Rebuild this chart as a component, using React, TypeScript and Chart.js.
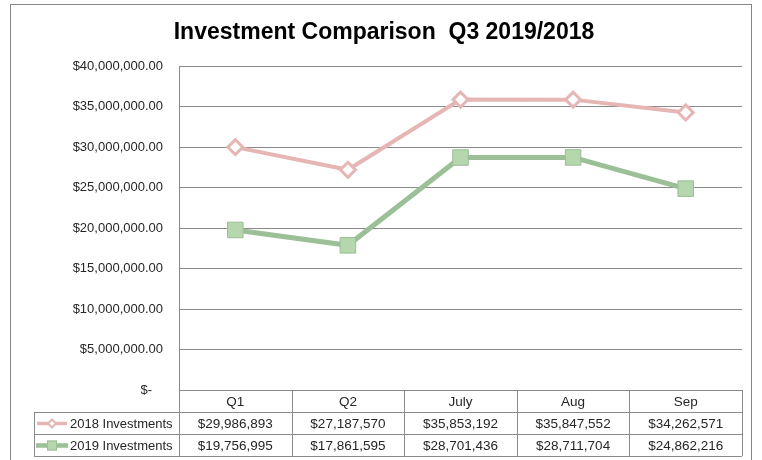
import React, { useEffect, useRef } from "react";
import { Chart, registerables } from "chart.js";

Chart.register(...registerables);

const chartTitle = "Investment Comparison  Q3 2019/2018";
const categories = ["Q1", "Q2", "July", "Aug", "Sep"];
const seriesNames = ["2018 Investments", "2019 Investments"];
const values2018 = [29986893, 27187570, 35853192, 35847552, 34262571];
const values2019 = [19756995, 17861595, 28701436, 28711704, 24862216];
const yMin = 0;
const yMax = 40000000;
const yStep = 5000000;

const PINK = "#E6B6B5";
const GREEN = "#9BBF96";
const GREEN_FILL = "#B6D6AE";
const GRID = "#8A8A8A";
const TEXT = "#262626";
const FONT = "'Liberation Sans', Arial, sans-serif";

const fmtMoney = (v: number) => "$" + v.toLocaleString("en-US");
const fmtTick = (v: number) =>
  v === 0
    ? "$-   "
    : "$" + v.toLocaleString("en-US", { minimumFractionDigits: 2, maximumFractionDigits: 2 });

const decorPlugin = {
  id: "decor",
  afterDraw(chart: any) {
    const ctx: CanvasRenderingContext2D = chart.ctx;
    const xs = chart.scales.x;
    const area = chart.chartArea;
    ctx.save();
    // outer border
    ctx.strokeStyle = "#868686";
    ctx.lineWidth = 1;
    ctx.strokeRect(10.5, 4.5, 741, 480);
    // title
    ctx.fillStyle = "#000";
    ctx.font = `bold 23px ${FONT}`;
    ctx.textAlign = "center";
    ctx.textBaseline = "middle";
    ctx.fillText(chartTitle, 384, 33);

    // data table
    const n = categories.length;
    const step = (area.right - area.left) / n;
    const rowH = 22;
    const top = area.bottom;
    const keyLeft = 34;
    ctx.strokeStyle = GRID;
    ctx.lineWidth = 1;
    ctx.beginPath();
    for (let r = 1; r <= 3; r++) {
      const y = Math.round(top + r * rowH) + 0.5;
      ctx.moveTo(keyLeft, y);
      ctx.lineTo(area.right, y);
    }
    for (let i = 0; i <= n; i++) {
      const x = Math.round(area.left + i * step) + 0.5;
      ctx.moveTo(x, top);
      ctx.lineTo(x, top + 3 * rowH);
    }
    ctx.moveTo(keyLeft + 0.5, top + rowH);
    ctx.lineTo(keyLeft + 0.5, top + 3 * rowH);
    ctx.stroke();

    ctx.fillStyle = TEXT;
    ctx.font = `13.5px ${FONT}`;
    ctx.textAlign = "center";
    ctx.textBaseline = "middle";
    const rows = [values2018, values2019];
    for (let i = 0; i < n; i++) {
      const cx = xs.getPixelForValue(i);
      ctx.fillText(categories[i], cx, top + rowH / 2 + 1);
      for (let r = 0; r < rows.length; r++) {
        ctx.fillText(fmtMoney(rows[r][i]), cx, top + rowH * (r + 1) + rowH / 2 + 1);
      }
    }
    // legend keys
    ctx.textAlign = "left";
    ctx.font = `13px ${FONT}`;
    for (let r = 0; r < 2; r++) {
      const cy = top + rowH * (r + 1) + rowH / 2 + 0.5;
      ctx.fillStyle = TEXT;
      ctx.fillText(seriesNames[r], 70, cy + 0.5);
      const kx = 52;
      if (r === 0) {
        ctx.strokeStyle = PINK;
        ctx.lineWidth = 3.5;
        ctx.beginPath();
        ctx.moveTo(37, cy);
        ctx.lineTo(67, cy);
        ctx.stroke();
        ctx.beginPath();
        ctx.moveTo(kx, cy - 4);
        ctx.lineTo(kx + 4, cy);
        ctx.lineTo(kx, cy + 4);
        ctx.lineTo(kx - 4, cy);
        ctx.closePath();
        ctx.fillStyle = "#fff";
        ctx.fill();
        ctx.lineWidth = 2;
        ctx.stroke();
      } else {
        ctx.strokeStyle = GREEN;
        ctx.lineWidth = 4.5;
        ctx.beginPath();
        ctx.moveTo(36, cy);
        ctx.lineTo(68, cy);
        ctx.stroke();
        ctx.fillStyle = GREEN_FILL;
        ctx.fillRect(kx - 5, cy - 5, 10, 10);
        ctx.strokeStyle = GREEN;
        ctx.lineWidth = 1;
        ctx.strokeRect(kx - 4.5, cy - 4.5, 9, 9);
      }
    }
    ctx.restore();
  },
};

export default function App() {
  const ref = useRef<HTMLCanvasElement | null>(null);
  useEffect(() => {
    if (!ref.current) return;
    const chart = new Chart(ref.current, {
      type: "line",
      data: {
        labels: categories,
        datasets: [
          {
            label: seriesNames[0],
            data: values2018,
            borderColor: PINK,
            borderWidth: 4,
            pointStyle: "rectRot",
            pointRadius: 7.5,
            pointBorderWidth: 3,
            pointBackgroundColor: "#fff",
            pointBorderColor: PINK,
            tension: 0,
          },
          {
            label: seriesNames[1],
            data: values2019,
            borderColor: GREEN,
            borderWidth: 5,
            pointStyle: "rect",
            pointRadius: 11,
            pointBorderWidth: 1,
            pointBackgroundColor: GREEN_FILL,
            pointBorderColor: GREEN,
            tension: 0,
          },
        ],
      },
      options: {
        animation: false,
        responsive: false,
        maintainAspectRatio: false,
        layout: { padding: { left: 0, top: 66, right: 20, bottom: 70 } },
        plugins: {
          legend: { display: false },
          title: { display: false },
          tooltip: { enabled: false },
        },
        scales: {
          x: { display: false, offset: true },
          y: {
            min: yMin,
            max: yMax,
            ticks: {
              stepSize: yStep,
              padding: 16,
              color: TEXT,
              font: { family: FONT, size: 13 },
              callback: (v: any) => fmtTick(Number(v)),
            },
            grid: { color: GRID, drawTicks: false, lineWidth: 1 },
            border: { display: true, color: GRID, width: 1 },
            afterFit: (s: any) => {
              s.width = 179;
            },
          },
        },
      },
      plugins: [decorPlugin],
    });
    return () => chart.destroy();
  }, []);
  return (
    <div style={{ position: "fixed", left: 0, top: 0, width: 762, height: 460, background: "#fff" }}>
      <canvas ref={ref} width={762} height={460} style={{ display: "block", width: 762, height: 460 }} />
    </div>
  );
}
